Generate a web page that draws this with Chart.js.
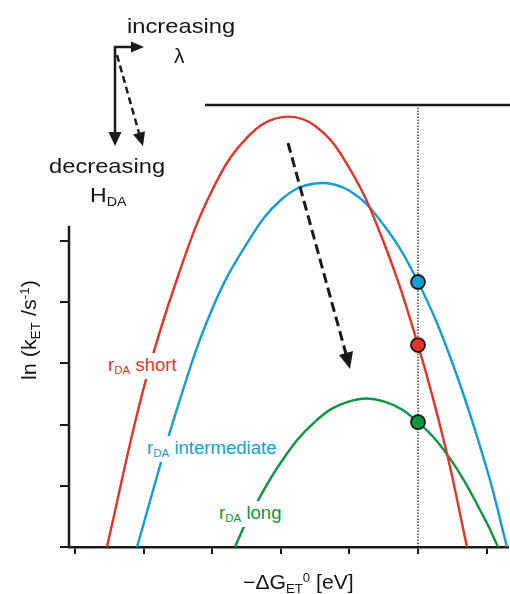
<!DOCTYPE html>
<html>
<head>
<meta charset="utf-8">
<script src="https://cdn.jsdelivr.net/npm/chart.js@4/dist/chart.umd.min.js"></script>
<style>
  html,body{margin:0;padding:0;background:#fff;}
  #wrap{position:relative;width:510px;height:594px;overflow:hidden;}
  canvas{position:absolute;left:0;top:0;}
  svg{position:absolute;left:0;top:0;pointer-events:none;}
  .t{position:absolute;white-space:nowrap;line-height:1;font-family:"Liberation Sans",Arial,sans-serif;transform-origin:0 0;color:#161616;}
  .sub{font-size:0.62em;position:relative;top:0.3em;}
  .sup{font-size:0.62em;position:relative;top:-0.6em;}
  .lab{background:#fff;padding:4px 2px;}
</style>
</head>
<body>
<div id="wrap">
  <canvas id="c" width="510" height="594"></canvas>
  <svg width="510" height="594" viewBox="0 0 510 594">
    <g stroke="#1a1a1a" stroke-width="2.5" fill="none">
      <polyline points="115,132 115,47 131,47"/>
      <line x1="117" y1="55" x2="139" y2="133" stroke-dasharray="7,4"/>
      <line x1="288" y1="143" x2="346" y2="354" stroke-width="3" stroke-dasharray="10,5"/>
    </g>
    <g fill="#1a1a1a">
      <polygon points="108.5,132 121.5,132 115,146"/>
      <polygon points="131,41.5 131,52.5 144,47"/>
      <polygon points="133,134.5 145,131.2 143,146"/>
      <polygon points="339,355 353,351 350,369"/>
    </g>
  </svg>
  <div class="t" style="font-size:21px;left:127px;top:15.2px;transform:scaleX(1.13)">increasing</div>
  <div class="t" style="font-size:21px;left:174px;top:45.2px;">λ</div>
  <div class="t" style="font-size:21px;left:49px;top:155.2px;transform:scaleX(1.13)">decreasing</div>
  <div class="t" style="font-size:21px;left:90px;top:184.2px;transform:scaleX(1.1)">H<span class="sub">DA</span></div>
  <div class="t lab" style="font-size:17.5px;left:106px;top:353.2px;color:#e6332a;transform:scaleX(1.06)">r<span class="sub">DA</span> short</div>
  <div class="t lab" style="font-size:17.5px;left:145px;top:436.2px;color:#129fd6;transform:scaleX(1.06)">r<span class="sub">DA</span> intermediate</div>
  <div class="t lab" style="font-size:17.5px;left:217px;top:501.2px;color:#0b9640;transform:scaleX(1.06)">r<span class="sub">DA</span> long</div>
  <div class="t" style="font-size:20px;left:243px;top:572px;transform:scaleX(1.06)">−ΔG<span class="sub">ET</span><span class="sup">0</span> [eV]</div>
  <div class="t" style="font-size:20px;left:19px;top:380px;transform:rotate(-90deg) scaleX(1.08)">ln (k<span class="sub">ET</span> /s<span class="sup">-1</span>)</div>
</div>
<script>
// ---- data ----
const xTicks = [-5, -4, -3, -2, -1, 0, 1];
const yTicks = [0, 1, 2, 3, 4, 5];

const redX = [-4.534, -4.0, -3.5, -3.0, -2.5, -2.0, -1.5, -1.0, -0.5, 0, 0.4, 0.714];
const redY = [0, 2.59, 4.42, 5.83, 6.68, 7.02, 6.88, 6.19, 4.98, 3.30, 1.63, 0];

const blueX = [-4.096, -3.5, -3.0, -2.5, -2.0, -1.5, -1.0, -0.5, 0, 0.5, 1.0, 1.297];
const blueY = [0, 2.30, 3.89, 4.95, 5.67, 5.94, 5.82, 5.26, 4.33, 3.01, 1.29, 0];

const greenX = [-2.668, -2.5, -2.0, -1.5, -1.0, -0.5, 0, 0.5, 1.0, 1.166];
const greenY = [0, 0.41, 1.38, 2.05, 2.38, 2.38, 2.04, 1.39, 0.40, 0];

const markerX = [0, 0, 0];
const markerY = [4.33, 3.30, 2.04];

const xMin = -5.087, xMax = 1.312;
const yMin = 0, yMax = 7.222;
const yAxisTop = 5.25;
const topLineX = [-3.105, 1.35];

// ---- styles ----
const RED = '#e6332a', BLUE = '#129fd6', GREEN = '#0b9640', INK = '#1a1a1a';
const pts = (xs, ys) => xs.map((x, i) => ({x, y: ys[i]}));

const curve = (xs, ys, c) => ({
  type: 'line', data: pts(xs, ys), borderColor: c, borderWidth: 2.4,
  pointRadius: 0, fill: false, tension: 0.4
});

new Chart(document.getElementById('c'), {
  type: 'scatter',
  data: {
    datasets: [
      {
        type: 'scatter', data: pts(markerX, markerY),
        backgroundColor: [BLUE, RED, GREEN], borderColor: INK, borderWidth: 1.8,
        pointRadius: 7, clip: false
      },
      curve(redX, redY, RED),
      curve(blueX, blueY, BLUE),
      curve(greenX, greenY, GREEN),
      {
        type: 'line', data: [{x: 0, y: yMin}, {x: 0, y: yMax}],
        borderColor: INK, borderWidth: 1.2, borderDash: [1.5, 1.5], pointRadius: 0, clip: false
      },
      {
        type: 'line', data: [{x: topLineX[0], y: yMax}, {x: topLineX[1], y: yMax}],
        borderColor: INK, borderWidth: 2.5, pointRadius: 0, clip: false
      },
      {
        type: 'line', data: [{x: xMin, y: yMin}, {x: xMin, y: yAxisTop}],
        borderColor: INK, borderWidth: 2.5, pointRadius: 0, clip: false
      }
    ]
  },
  options: {
    responsive: false, animation: false, devicePixelRatio: 1,
    layout: {autoPadding: false, padding: {left: 0, right: 2, top: 105, bottom: 0}},
    plugins: {legend: {display: false}, tooltip: {enabled: false}},
    scales: {
      x: {
        type: 'linear', min: xMin, max: xMax,
        afterBuildTicks: s => { s.ticks = xTicks.map(v => ({value: v})); },
        afterFit: s => { s.height = 47; },
        grid: {drawOnChartArea: false, drawTicks: true, tickLength: 7, color: INK, lineWidth: 2},
        border: {display: true, color: INK, width: 2.5},
        ticks: {display: false}
      },
      y: {
        type: 'linear', min: yMin, max: yMax,
        afterBuildTicks: s => { s.ticks = yTicks.map(v => ({value: v})); },
        afterFit: s => { s.width = 69; },
        grid: {drawOnChartArea: false, drawTicks: true, tickLength: 9, color: INK, lineWidth: 2},
        border: {display: false},
        ticks: {display: false}
      }
    }
  }
});
</script>
</body>
</html>
